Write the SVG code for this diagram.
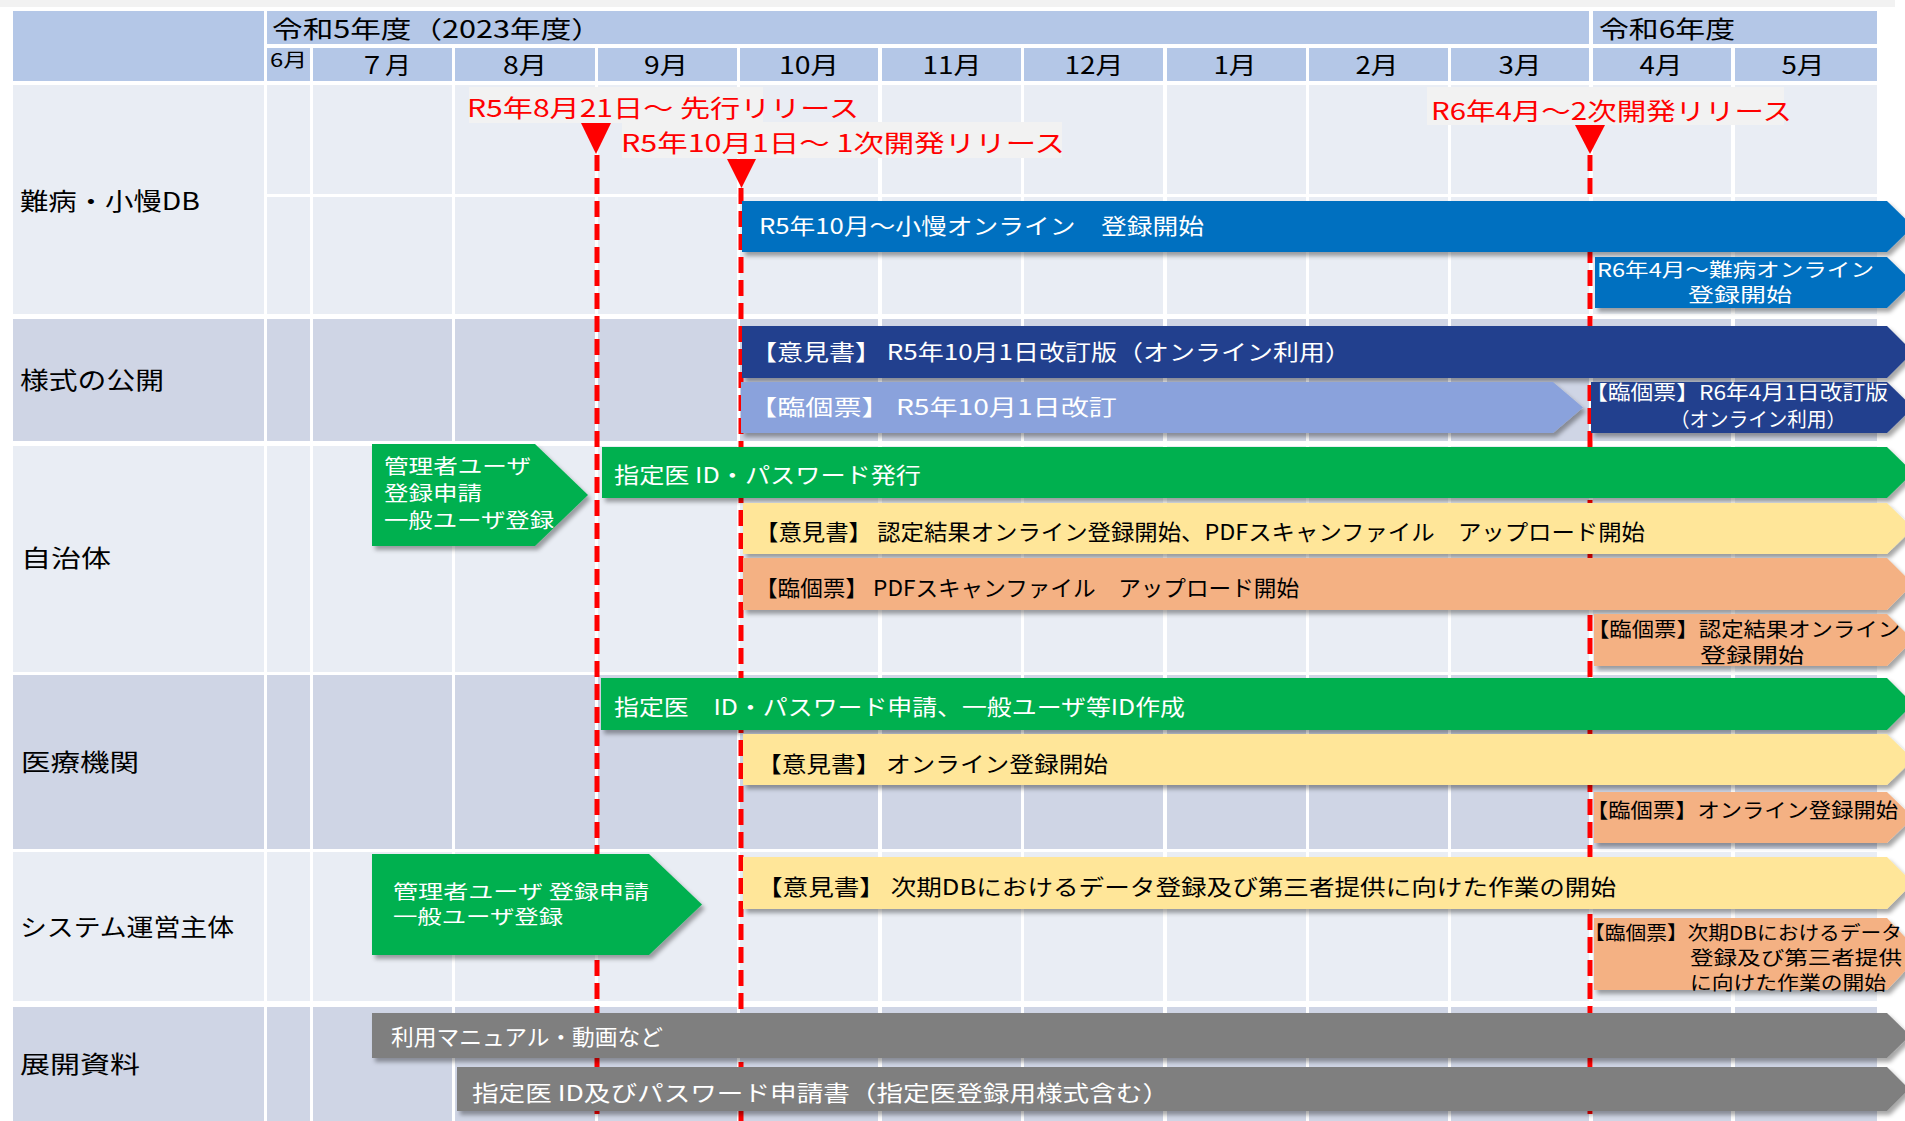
<svg xmlns="http://www.w3.org/2000/svg" width="1905" height="1121" viewBox="0 0 1905 1121">
<defs>
<style>
text { font-family: "Noto Sans CJK JP", "Noto Sans", sans-serif; }
.hd { fill: #b4c7e7; }
.ra { fill: #e9edf4; }
.rb { fill: #cfd5e5; }
.gl { fill: #ffffff; }
.lbl { font-size: 24px; fill: #000; }
.mon { font-size: 24px; fill: #000; text-anchor: middle; }
.red { font-size: 24px; fill: #ff0000; }
.rbox { fill: #f2f2f2; }
.ms { stroke: #ff0000; stroke-width: 5; stroke-dasharray: 16 7; fill: none; }
.tri { fill: #ff0000; }
.bt { font-size: 22px; }
.st { font-size: 20px; }
.tt { font-size: 19px; }
.w { fill: #ffffff; }
.k { fill: #000000; }
.blue { fill: #0070c0; }
.navy { fill: #24408e; }
.lblue { fill: #8aa2dc; }
.green { fill: #00b050; }
.yel { fill: #ffe699; }
.org { fill: #f4b183; }
.gray { fill: #7f7f7f; }
.mid { text-anchor: middle; }
</style>
<filter id="sh" x="-5%" y="-30%" width="112%" height="180%">
<feDropShadow dx="3" dy="4" stdDeviation="2" flood-color="#000" flood-opacity="0.35"/>
</filter>
</defs>
<rect x="0" y="0" width="1905" height="1121" fill="#ffffff"/>
<rect x="0" y="0" width="1895" height="7" fill="#f2f2f2"/>

<g id="grid">
<rect class="hd" x="13" y="11" width="251" height="70"/>
<rect class="hd" x="267" y="11" width="1610" height="70"/>
<rect class="ra" x="13" y="85" width="1864" height="229"/>
<rect class="rb" x="13" y="319" width="1864" height="122"/>
<rect class="ra" x="13" y="446" width="1864" height="226"/>
<rect class="rb" x="13" y="675" width="1864" height="174"/>
<rect class="ra" x="13" y="852" width="1864" height="149"/>
<rect class="rb" x="13" y="1007" width="1864" height="114"/>
<rect class="gl" x="267" y="44" width="1610" height="4"/>
<rect class="gl" x="267" y="194" width="1610" height="3"/>
<rect class="gl" x="264" y="11" width="3" height="1110"/>
<rect class="gl" x="310" y="44" width="3" height="1077"/>
<rect class="gl" x="452" y="44" width="3" height="1077"/>
<rect class="gl" x="595" y="44" width="3" height="1077"/>
<rect class="gl" x="737" y="44" width="3" height="1077"/>
<rect class="gl" x="878" y="44" width="4" height="1077"/>
<rect class="gl" x="1021" y="44" width="3" height="1077"/>
<rect class="gl" x="1163" y="44" width="4" height="1077"/>
<rect class="gl" x="1306" y="44" width="3" height="1077"/>
<rect class="gl" x="1448" y="44" width="3" height="1077"/>
<rect class="gl" x="1589" y="11" width="4" height="1110"/>
<rect class="gl" x="1731" y="44" width="4" height="1077"/>
</g>

<g id="header">
<text class="lbl" x="272" y="37.5" textLength="330" lengthAdjust="spacingAndGlyphs">令和5年度（2023年度）</text>
<text class="lbl" x="1599" y="37.5" textLength="136" lengthAdjust="spacingAndGlyphs">令和6年度</text>
<text x="270" y="66.5" font-size="19" textLength="37" lengthAdjust="spacingAndGlyphs">6月</text>
<text class="mon" x="385" y="73.5" textLength="52" lengthAdjust="spacingAndGlyphs">７月</text>
<text class="mon" x="525" y="73.5" textLength="44" lengthAdjust="spacingAndGlyphs">8月</text>
<text class="mon" x="666" y="73.5" textLength="44" lengthAdjust="spacingAndGlyphs">9月</text>
<text class="mon" x="809" y="73.5" textLength="60" lengthAdjust="spacingAndGlyphs">10月</text>
<text class="mon" x="952" y="73.5" textLength="59" lengthAdjust="spacingAndGlyphs">11月</text>
<text class="mon" x="1094" y="73.5" textLength="59" lengthAdjust="spacingAndGlyphs">12月</text>
<text class="mon" x="1235" y="73.5" textLength="43" lengthAdjust="spacingAndGlyphs">1月</text>
<text class="mon" x="1377" y="73.5" textLength="43" lengthAdjust="spacingAndGlyphs">2月</text>
<text class="mon" x="1520" y="73.5" textLength="43" lengthAdjust="spacingAndGlyphs">3月</text>
<text class="mon" x="1661" y="73.5" textLength="43" lengthAdjust="spacingAndGlyphs">4月</text>
<text class="mon" x="1803" y="73.5" textLength="43" lengthAdjust="spacingAndGlyphs">5月</text>
</g>

<g id="row-labels">
<text class="lbl" x="20" y="209.5" textLength="180" lengthAdjust="spacingAndGlyphs">難病・小慢DB</text>
<text class="lbl" x="20" y="388.5" textLength="144" lengthAdjust="spacingAndGlyphs">様式の公開</text>
<text class="lbl" x="21" y="566.5" textLength="90" lengthAdjust="spacingAndGlyphs">自治体</text>
<text class="lbl" x="21" y="770.5" textLength="118" lengthAdjust="spacingAndGlyphs">医療機関</text>
<text class="lbl" x="20" y="935.5" textLength="214" lengthAdjust="spacingAndGlyphs">システム運営主体</text>
<text class="lbl" x="20" y="1072.5" textLength="120" lengthAdjust="spacingAndGlyphs">展開資料</text>
</g>

<g id="connectors">
<line class="ms" x1="597" y1="155" x2="597" y2="1121"/>
<line class="ms" x1="741" y1="188" x2="741" y2="1121"/>
<line class="ms" x1="1590" y1="155" x2="1590" y2="1121"/>
</g>

<g id="milestone-1">
<rect class="rbox" x="469" y="87" width="294" height="36"/>
<text class="red" x="467" y="116.5" textLength="392" lengthAdjust="spacingAndGlyphs">R5年8月21日～ 先行リリース</text>
<polygon class="tri" points="581,123 611,123 596,154"/>
</g>
<g id="milestone-2">
<rect class="rbox" x="622" y="122" width="440" height="36"/>
<text class="red" x="621" y="151.5" textLength="444" lengthAdjust="spacingAndGlyphs">R5年10月1日～ 1次開発リリース</text>
<polygon class="tri" points="727,159 756,159 741.5,188"/>
</g>
<g id="milestone-3">
<rect class="rbox" x="1427" y="87" width="357" height="38"/>
<text class="red" x="1431" y="119.5" textLength="361" lengthAdjust="spacingAndGlyphs">R6年4月～2次開発リリース</text>
<polygon class="tri" points="1575,125 1605,125 1590,154"/>
</g>

<g id="bar-shoman">
<polygon class="blue" filter="url(#sh)" points="742,201 1887,201 1913,226.5 1887,252 742,252"/>
<text class="bt w" x="759" y="234" textLength="445" lengthAdjust="spacingAndGlyphs">R5年10月～小慢オンライン　登録開始</text>
</g>
<g id="bar-nanbyo">
<polygon class="blue" filter="url(#sh)" points="1595,257 1887,257 1913,282.5 1887,308 1595,308"/>
<text class="tt w" x="1597" y="276.7" textLength="277" lengthAdjust="spacingAndGlyphs">R6年4月～難病オンライン</text>
<text class="tt w mid" x="1740" y="301.7" textLength="104" lengthAdjust="spacingAndGlyphs">登録開始</text>
</g>
<g id="bar-ikensho-form">
<polygon class="navy" filter="url(#sh)" points="742,326 1887,326 1913,352 1887,378 742,378"/>
<text class="bt w" x="751" y="359.7" textLength="600" lengthAdjust="spacingAndGlyphs">【意見書】 R5年10月1日改訂版（オンライン利用）</text>
</g>
<g id="bar-rinkohyo-form">
<polygon class="lblue" filter="url(#sh)" points="741,382 1553,382 1583,407.5 1553,433 741,433"/>
<text class="bt w" x="749" y="414.7" textLength="368" lengthAdjust="spacingAndGlyphs">【臨個票】 R5年10月1日改訂</text>
</g>
<g id="bar-rinkohyo-form-r6">
<polygon class="navy" filter="url(#sh)" points="1591,382 1887,382 1913,407.5 1887,433 1591,433"/>
<text class="st w" x="1585" y="400" textLength="303" lengthAdjust="spacingAndGlyphs">【臨個票】R6年4月1日改訂版</text>
<text class="st w mid" x="1758" y="427" textLength="176" lengthAdjust="spacingAndGlyphs">（オンライン利用）</text>
</g>
<g id="pent-admin-local">
<polygon class="green" filter="url(#sh)" points="372,444 535,444 588,495 535,546 372,546"/>
<text class="st w" x="384" y="474" textLength="147" lengthAdjust="spacingAndGlyphs">管理者ユーザ</text>
<text class="st w" x="384" y="501" textLength="98" lengthAdjust="spacingAndGlyphs">登録申請</text>
<text class="st w" x="384" y="528" textLength="170" lengthAdjust="spacingAndGlyphs">一般ユーザ登録</text>
</g>
<g id="bar-id-issue">
<polygon class="green" filter="url(#sh)" points="602,447 1887,447 1913,472.5 1887,498 602,498"/>
<text class="bt w" x="614" y="482.7" textLength="307" lengthAdjust="spacingAndGlyphs">指定医 ID・パスワード発行</text>
</g>
<g id="bar-local-ikensho">
<polygon class="yel" filter="url(#sh)" points="743,503 1887,503 1913,528.5 1887,554 743,554"/>
<text class="bt k" x="755" y="539.7" textLength="890" lengthAdjust="spacingAndGlyphs">【意見書】 認定結果オンライン登録開始、PDFスキャンファイル　アップロード開始</text>
</g>
<g id="bar-local-rinkohyo">
<polygon class="org" filter="url(#sh)" points="743,558 1887,558 1913,584 1887,610 743,610"/>
<text class="bt k" x="755" y="595.7" textLength="544" lengthAdjust="spacingAndGlyphs">【臨個票】 PDFスキャンファイル　アップロード開始</text>
</g>
<g id="box-local-rinkohyo-r6">
<polygon class="org" filter="url(#sh)" points="1594,614 1887,614 1913,640 1887,666 1594,666"/>
<text class="st k" x="1587" y="637" textLength="313" lengthAdjust="spacingAndGlyphs">【臨個票】認定結果オンライン</text>
<text class="st k mid" x="1752" y="663" textLength="104" lengthAdjust="spacingAndGlyphs">登録開始</text>
</g>
<g id="bar-id-apply">
<polygon class="green" filter="url(#sh)" points="601,678 1887,678 1913,704 1887,730 601,730"/>
<text class="bt w" x="614" y="714.7" textLength="571" lengthAdjust="spacingAndGlyphs">指定医　ID・パスワード申請、一般ユーザ等ID作成</text>
</g>
<g id="bar-med-ikensho">
<polygon class="yel" filter="url(#sh)" points="743,734 1887,734 1913,759.5 1887,785 743,785"/>
<text class="bt k" x="757" y="771.7" textLength="351" lengthAdjust="spacingAndGlyphs">【意見書】 オンライン登録開始</text>
</g>
<g id="box-med-rinkohyo">
<polygon class="org" filter="url(#sh)" points="1594,792 1887,792 1913,817.5 1887,843 1594,843"/>
<text class="st k" x="1586" y="818" textLength="312" lengthAdjust="spacingAndGlyphs">【臨個票】オンライン登録開始</text>
</g>
<g id="pent-admin-system">
<polygon class="green" filter="url(#sh)" points="372,854 649,854 702,904.5 649,955 372,955"/>
<text class="tt w" x="393" y="898.7" textLength="256" lengthAdjust="spacingAndGlyphs">管理者ユーザ 登録申請</text>
<text class="tt w" x="393" y="923.7" textLength="170" lengthAdjust="spacingAndGlyphs">一般ユーザ登録</text>
</g>
<g id="bar-sys-ikensho">
<polygon class="yel" filter="url(#sh)" points="743,857 1887,857 1913,883 1887,909 743,909"/>
<text class="bt k" x="757" y="894.7" textLength="859" lengthAdjust="spacingAndGlyphs">【意見書】 次期DBにおけるデータ登録及び第三者提供に向けた作業の開始</text>
</g>
<g id="box-sys-rinkohyo">
<polygon class="org" filter="url(#sh)" points="1594,918 1887,918 1921,954 1887,990 1594,990"/>
<text class="tt k" x="1584" y="939.7" textLength="318" lengthAdjust="spacingAndGlyphs">【臨個票】次期DBにおけるデータ</text>
<text class="tt k" x="1690" y="964.7" textLength="212" lengthAdjust="spacingAndGlyphs">登録及び第三者提供</text>
<text class="tt k" x="1690" y="989.7" textLength="196" lengthAdjust="spacingAndGlyphs">に向けた作業の開始</text>
</g>
<g id="bar-manual">
<polygon class="gray" filter="url(#sh)" points="372,1013 1887,1013 1910,1035.5 1887,1058 372,1058"/>
<text class="bt w" x="391" y="1044.7" textLength="272" lengthAdjust="spacingAndGlyphs">利用マニュアル・動画など</text>
</g>
<g id="bar-forms">
<polygon class="gray" filter="url(#sh)" points="457,1067 1887,1067 1909,1089 1887,1111 457,1111"/>
<text class="bt w" x="472" y="1100.7" textLength="697" lengthAdjust="spacingAndGlyphs">指定医 ID及びパスワード申請書（指定医登録用様式含む）</text>
</g>
</svg>
